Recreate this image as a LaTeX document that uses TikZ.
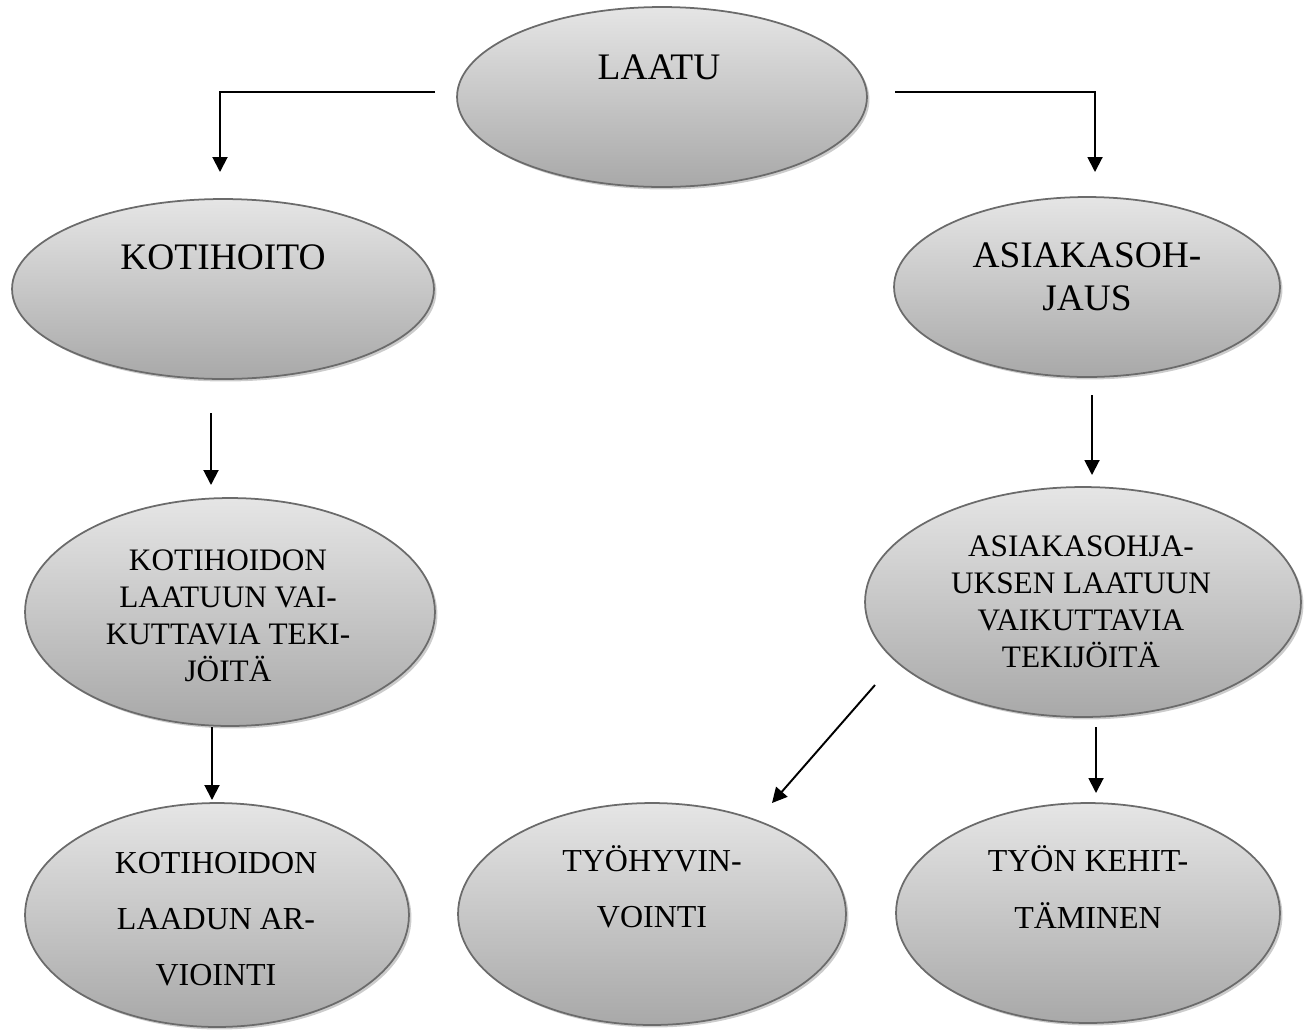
\documentclass[tikz,border=0pt]{standalone}
\usepackage{fontspec}
\setmainfont{Liberation Serif}
\usepackage{tikz}
\usetikzlibrary{positioning,shapes.geometric,arrows.meta,shadows}

\begin{document}
\begin{tikzpicture}[x=0.02cm,y=-0.02cm,
	roundnode/.style={ellipse, draw=black!58, line width=1pt, top color=black!10, bottom color=black!34, inner sep=0pt,
		drop shadow={shadow xshift=0.05cm, shadow yshift=-0.05cm, fill=black!40, opacity=0.5}},
	toptext/.style={align=center, font=\fontsize{21.3}{24.5}\selectfont},
	midtext/.style={align=center, font=\fontsize{17.8}{21}\selectfont},
	bottomtext/.style={align=center, font=\fontsize{18.2}{32}\selectfont},
	arrow/.style={-{Triangle[length=0.3cm,width=0.3cm]}, line width=1.1pt},]
						\useasboundingbox (0,0) rectangle (1308,1032);

						\node[roundnode, minimum width=8.2cm, minimum height=3.6cm](maintopic) at (662,97){};
						\node[roundnode, minimum width=8.44cm, minimum height=3.6cm](node1) at (223,289){};
						\node[roundnode, minimum width=7.72cm, minimum height=3.6cm](node2) at (1087,287){};
						\node[roundnode, minimum width=8.2cm, minimum height=4.56cm](node3) at (230,612){};
						\node[roundnode, minimum width=8.72cm, minimum height=4.6cm](node4) at (1083,602){};
						\node[roundnode, minimum width=7.68cm, minimum height=4.48cm](node5) at (217,915){};
						\node[roundnode, minimum width=7.76cm, minimum height=4.44cm](node6) at (652,914){};
						\node[roundnode, minimum width=7.68cm, minimum height=4.4cm](node7) at (1088,913){};

						\node[toptext](maintopictext) at (659,67){LAATU};
						\node[toptext](node1text) at (223,257){KOTIHOITO};
						\node[toptext](node2text) at (1087,277){ASIAKASOH-\\JAUS};
						\node[midtext](node3text) at (228,616){KOTIHOIDON\\LAATUUN VAI-\\KUTTAVIA TEKI-\\JÖITÄ};
						\node[midtext](node4text) at (1081,602){ASIAKASOHJA-\\UKSEN LAATUUN\\VAIKUTTAVIA\\TEKIJÖITÄ};
						\node[bottomtext](node5text) at (216,919){KOTIHOIDON\\LAADUN AR-\\VIOINTI};
						\node[bottomtext](node6text) at (652,887){TYÖHYVIN-\\VOINTI};
						\node[bottomtext](node7text) at (1088,887){TYÖN KEHIT-\\TÄMINEN};

						\coordinate (a1) at (435,92);
						\coordinate (a2) at (220,92);
						\coordinate (a3) at (220,172);
						\coordinate (b1) at (895,92);
						\coordinate (b2) at (1095,92);
						\coordinate (b3) at (1095,172);
						\coordinate (c1) at (211,413);
						\coordinate (c2) at (211,485);
						\coordinate (d1) at (1092,395);
						\coordinate (d2) at (1092,475);
						\coordinate (e1) at (212,727);
						\coordinate (e2) at (212,800);
						\coordinate (f1) at (875,685);
						\coordinate (f2) at (772,803);
						\coordinate (g1) at (1096,727);
						\coordinate (g2) at (1096,793);

						\draw[arrow](a1) -- (a2) -- (a3);
						\draw[arrow](b1) -- (b2) -- (b3);
						\draw[arrow](c1) -- (c2);
						\draw[arrow](d1) -- (d2);
						\draw[arrow](e1) -- (e2);
						\draw[arrow](f1) -- (f2);
						\draw[arrow](g1) -- (g2);
				\end{tikzpicture}
\end{document}
